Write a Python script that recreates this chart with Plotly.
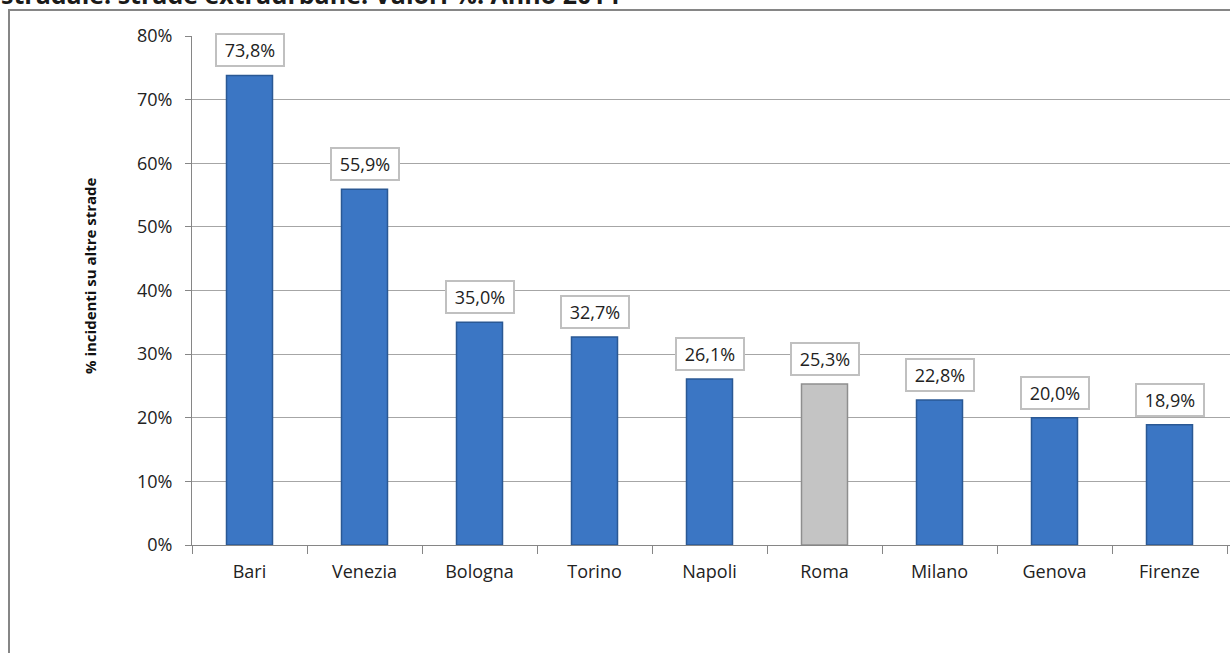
import plotly.graph_objects as go

cities = ["Bari", "Venezia", "Bologna", "Torino", "Napoli", "Roma", "Milano", "Genova", "Firenze"]
values = [73.8, 55.9, 35.0, 32.7, 26.1, 25.3, 22.8, 20.0, 18.9]
highlight = "Roma"
labels = [f"{v:.1f}%".replace(".", ",") for v in values]
y_ticks = [0, 10, 20, 30, 40, 50, 60, 70, 80]
y_tick_text = [f"{t}%" for t in y_ticks]

fill = ["#c4c4c4" if c == highlight else "#3b76c4" for c in cities]
edge = ["#8e8e8e" if c == highlight else "#2a5894" for c in cities]

W, H = 1230, 653
L, R, T, B = 192, 0, 36, 108
pw, ph = W - L - R, H - T - B
cat_px = 115

def px_x(x):
    return (x - L) / pw

def px_y(y):
    return 1 - (y - T) / ph

FONT = "Open Sans, sans-serif"

fig = go.Figure()
fig.add_trace(go.Bar(
    x=cities, y=values, width=0.4,
    marker=dict(color=fill, line=dict(color=edge, width=1.5)),
    hoverinfo="skip",
))

annotations = []
for c, v, t in zip(cities, values, labels):
    annotations.append(dict(
        x=c, y=v, xref="x", yref="y", text=t, showarrow=False,
        yanchor="bottom", yshift=8, width=60, height=24,
        font=dict(family=FONT, size=18, color="#222222"),
        bordercolor="#c0c0c0", borderwidth=2, borderpad=3, bgcolor="white",
    ))

annotations.append(dict(
    x=px_x(-1), y=px_y(13), xref="paper", yref="paper",
    xanchor="left", yanchor="bottom", showarrow=False,
    text="<b>stradale: strade extraurbane. Valori %. Anno 2014</b>",
    font=dict(family=FONT, size=25, color="#1a1a1a"),
))
annotations.append(dict(
    x=px_x(90), y=px_y(276), xref="paper", yref="paper",
    xanchor="center", yanchor="middle", showarrow=False, textangle=-90,
    text="<b>% incidenti su altre strade</b>",
    font=dict(family=FONT, size=15, color="#111111"),
))

fig.update_layout(
    width=W, height=H,
    margin=dict(l=L, r=R, t=T, b=B, pad=0),
    paper_bgcolor="white", plot_bgcolor="white",
    showlegend=False,
    annotations=annotations,
    shapes=[dict(
        type="rect", xref="paper", yref="paper",
        x0=px_x(9), x1=1.2, y0=-0.5, y1=px_y(10),
        line=dict(color="#868686", width=2), fillcolor="rgba(0,0,0,0)", layer="below",
    )],
    font=dict(family=FONT, size=18, color="#222222"),
)

fig.update_xaxes(
    range=[-0.5, pw / cat_px - 0.5],
    showgrid=False, showline=True, linecolor="#868686", linewidth=1,
    ticks="outside", tickson="boundaries", ticklen=8, tickcolor="#868686",
    tickfont=dict(size=18, color="#222222"), ticklabelstandoff=10,
)
fig.update_yaxes(
    range=[0, 80], tickvals=y_ticks, ticktext=y_tick_text,
    showgrid=True, gridcolor="#a6a6a6", gridwidth=1,
    showline=True, linecolor="#868686", linewidth=1,
    ticks="outside", ticklen=6, tickcolor="#868686",
    tickfont=dict(size=18, color="#222222"), ticklabelstandoff=9,
    zeroline=False,
)

fig.write_html("out.html", config={"displayModeBar": False},
               post_script="document.body.style.margin='0';")
